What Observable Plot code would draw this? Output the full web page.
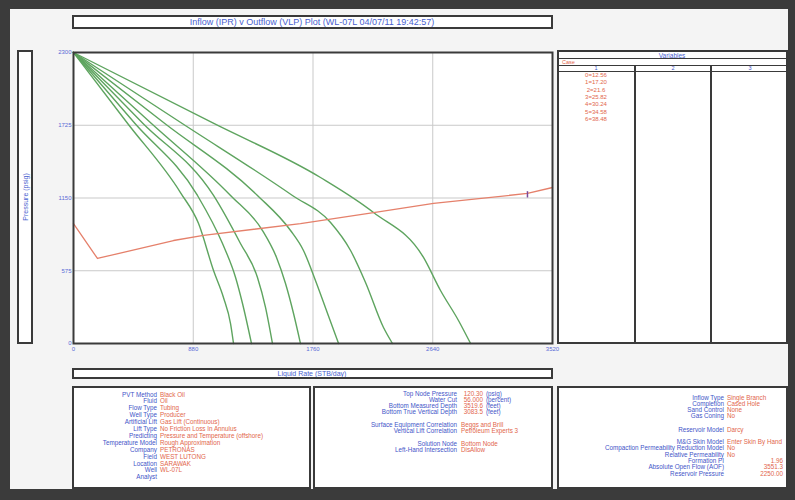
<!DOCTYPE html>
<html><head><meta charset="utf-8">
<script src="https://cdn.jsdelivr.net/npm/d3@7"></script>
<script src="https://cdn.jsdelivr.net/npm/@observablehq/plot@0.6"></script>
<style>
body{margin:0;background:#3d3d3d;font-family:"Liberation Sans",Arial,sans-serif;}
#page{position:relative;width:795px;height:500px;overflow:hidden;background:#3b3b3b;}
#inner{position:absolute;left:10px;top:9px;width:778px;height:480px;background:#f4f4f4;}
.box{position:absolute;box-sizing:border-box;border:2px solid #3a3a3a;background:#fff;overflow:hidden;}
.t{position:absolute;white-space:nowrap;font-size:6.3px;line-height:7px;}
.lab{color:#3f55c8;}
.val{color:#e2664c;}
.hl{position:absolute;height:0;border-top:1.5px solid #3a3a3a;}
.vl{position:absolute;width:0;border-left:2px solid #3a3a3a;}
</style></head>
<body><div id="page"><div id="inner"></div></div>
<script>
// ---- data ----
const xTicks = [0, 880, 1760, 2640, 3520];
const yTicks = [0, 575, 1150, 1725, 2300];
const ipr0 = [[0,2300],[398,1739],[786,1193],[919,948],[1029,577],[1102,364],[1154,158],[1176,0]];
const ipr1 = [[0,2300],[452,1739],[911,1170],[1095,790],[1191,522],[1242,316],[1308,0]];
const ipr2 = [[0,2300],[511,1739],[1029,1170],[1227,790],[1352,522],[1411,285],[1462,0]];
const ipr3 = [[0,2300],[573,1739],[1154,1170],[1389,893],[1492,680],[1558,474],[1617,237],[1668,0]];
const ipr4 = [[0,2300],[671,1739],[1352,1170],[1595,893],[1690,735],[1778,498],[1867,237],[1948,0]];
const ipr5 = [[0,2300],[799,1739],[1609,1170],[1889,956],[2036,735],[2146,482],[2278,126],[2344,0]];
const ipr6 = [[0,2300],[1031,1739],[1815,1312],[2205,1035],[2572,680],[2697,419],[2829,182],[2918,0]];
const vlpQ = [0,176,735,955,1668,2205,2646,3336,3520];
const vlpP = [948,672,814,854,948,1035,1107,1186,1233];
const markerQ = [3336];
const caseValues = ["0=12.56","1=17.20","2=21.6","3=25.82","4=30.24","5=34.58","6=38.48"];
const caseColumns = ["1","2","3"];
const titleText = "Inflow (IPR) v Outflow (VLP) Plot (WL-07L 04/07/11 19:42:57)";
const xLabel = "Liquid Rate (STB/day)";
const yLabel = "Pressure (psig)";
const leftLabels = ["PVT Method","Fluid","Flow Type","Well Type","Artificial Lift","Lift Type","Predicting","Temperature Model","Company","Field","Location","Well","Analyst"];
const leftValues = ["Black Oil","Oil","Tubing","Producer","Gas Lift (Continuous)","No Friction Loss In Annulus","Pressure and Temperature (offshore)","Rough Approximation","PETRONAS","WEST LUTONG","SARAWAK","WL-07L",""];
const midLabels = ["Top Node Pressure","Water Cut","Bottom Measured Depth","Bottom True Vertical Depth","Surface Equipment Correlation","Vertical Lift Correlation","Solution Node","Left-Hand Intersection"];
const midNumbers = ["120.30","56.000","3519.6","3083.5","","","",""];
const midUnits = ["(psig)","(percent)","(feet)","(feet)","","","",""];
const midText = ["","","","","Beggs and Brill","Petroleum Experts 3","Bottom Node","DisAllow"];
const rightLabels = ["Inflow Type","Completion","Sand Control","Gas Coning","Reservoir Model","M&G Skin Model","Compaction Permeability Reduction Model","Relative Permeability","Formation PI","Absolute Open Flow (AOF)","Reservoir Pressure"];
const rightValues = ["Single Branch","Cased Hole","None","No","Darcy","Enter Skin By Hand","No","No","","",""];
const rightNumbers = ["","","","","","","","","1.96","3551.3","2250.00"];

// ---- layout helpers ----
const page = document.getElementById("page");
function box(x,y,w,h){const d=document.createElement("div");d.className="box";Object.assign(d.style,{left:x+"px",top:y+"px",width:w+"px",height:h+"px"});page.appendChild(d);return {el:d,x,y};}
function text(parent,str,x,y,cls,align,extra){
  const s=document.createElement("div");s.className="t "+cls;s.textContent=str;
  const b = parent.el===page?0:2;
  const px=x-parent.x-b, py=y-parent.y-b;
  s.style.top=py+"px";
  if(align==="right"){s.style.right=(parent.el.clientWidth - px)+"px";}
  else if(align==="center"){s.style.left=px+"px";s.style.transform="translateX(-50%)";}
  else s.style.left=px+"px";
  if(extra)Object.assign(s.style,extra);
  parent.el.appendChild(s);return s;
}
function line(parent,cls,x,y,len){const d=document.createElement("div");d.className=cls;
  d.style.left=(x-parent.x-2)+"px";d.style.top=(y-parent.y-2)+"px";
  if(cls==="hl")d.style.width=len+"px";else d.style.height=len+"px";parent.el.appendChild(d);}

// title
const tb = box(72,15,481,14);
text(tb,titleText,312,17,"lab","center",{fontSize:"9px",lineHeight:"10px",color:"#4a5fd0"});
// y label
const yb = box(17,50,16,294);
text(yb,yLabel,25,197,"lab","center",{fontSize:"7px",transform:"translate(-50%,-50%) rotate(-90deg)",color:"#4a5fd0"});
// x label
const xb = box(72,368,481,11);
text(xb,xLabel,312,370,"lab","center",{fontSize:"7px",color:"#4a5fd0"});

// variables table
const vb = box(557,50,231,294);
text(vb,"Variables",672,51.5,"lab","center",{fontSize:"6.5px",color:"#4a5fd0"});
line(vb,"hl",557,58,231);
text(vb,"Case",562,58.5,"val","left",{fontSize:"5.5px"});
line(vb,"hl",557,64.5,231);
const colX=[596,673,750];
caseColumns.forEach((c,i)=>text(vb,c,colX[i],65,"lab","center",{fontSize:"5.5px"}));
line(vb,"hl",557,70.5,231);
line(vb,"vl",634,64.5,285);
line(vb,"vl",710,64.5,285);
caseValues.forEach((v,i)=>text(vb,v,596,72+i*7.3,"val","center",{fontSize:"6px"}));

// bottom panels
const lb = box(72,386,239,103);
leftLabels.forEach((l,i)=>{const y=390.5+i*6.9;text(lb,l,157,y,"lab","right");text(lb,leftValues[i],160,y,"val","left");});
const mb = box(313,386,240,103);
const midY=[389.5,395.5,401.5,407.5,420.5,427,439.5,446];
midLabels.forEach((l,i)=>{const y=midY[i];text(mb,l,457,y,"lab","right");
  if(midNumbers[i]){text(mb,midNumbers[i],483,y,"val","right");text(mb,midUnits[i],486,y,"lab","left");}
  else text(mb,midText[i],461,y,"val","left");});
const rb = box(557,386,231,103);
const rightY=[393.5,399.8,406,412.3,425.5,438,444.3,450.6,456.9,463.2,469.5];
rightLabels.forEach((l,i)=>{const y=rightY[i];text(rb,l,724,y,"lab","right");
  if(rightValues[i])text(rb,rightValues[i],727,y,"val","left");
  else text(rb,rightNumbers[i],783,y,"val","right");});

// ---- chart ----
const iprRows = [ipr0,ipr1,ipr2,ipr3,ipr4,ipr5,ipr6].flatMap((c,k)=>c.map(([q,p])=>({q,p,k})));
const vlpRows = vlpQ.map((q,i)=>({q,p:vlpP[i]}));
const chart = Plot.plot({
  width: 520, height: 315,
  marginLeft: 33, marginTop: 7, marginRight: 8, marginBottom: 17,
  style: {background:"transparent", fontFamily:"Liberation Sans, Arial, sans-serif"},
  x: {domain:[0,3520], label:null},
  y: {domain:[0,2300], label:null},
  marks: [
    Plot.frame({fill:"#fff", stroke:"none"}),
    Plot.gridX(xTicks.slice(1,-1), {stroke:"#c9c9c9", strokeOpacity:1, strokeWidth:1}),
    Plot.gridY(yTicks.slice(1,-1), {stroke:"#c9c9c9", strokeOpacity:1, strokeWidth:1}),
    Plot.line(iprRows, {x:"q", y:"p", z:"k", stroke:"#5ea45f", strokeWidth:1.4, curve:"monotone-x"}),
    Plot.line(vlpRows, {x:"q", y:"p", stroke:"#e5806b", strokeWidth:1.3}),
    Plot.ruleX(markerQ, {y1:1150, y2:1200, stroke:"#7a4a9a", strokeWidth:1.5}),
    Plot.frame({stroke:"#3a3a3a", strokeWidth:2}),
    Plot.axisX(xTicks, {tickSize:0, tickPadding:3, fontSize:6, color:"#5a6ad6", tickFormat:d3.format("d"), label:null}),
    Plot.axisY(yTicks, {tickSize:0, tickPadding:2, fontSize:6, color:"#5a6ad6", tickFormat:d3.format("d"), label:null})
  ]
});
Object.assign(chart.style,{position:"absolute",left:"40px",top:"45px"});
page.appendChild(chart);
</script></body></html>
